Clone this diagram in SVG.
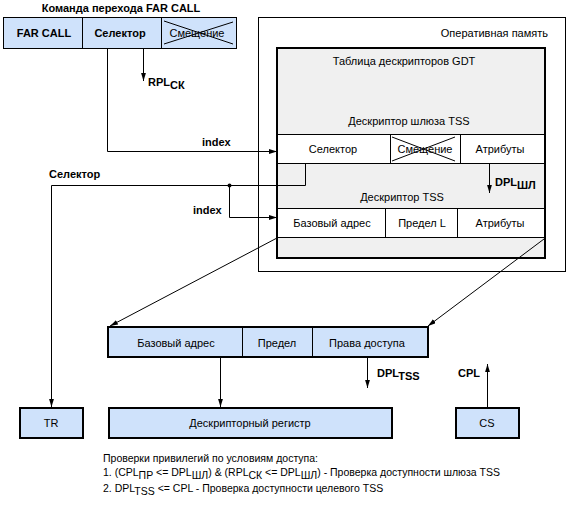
<svg xmlns="http://www.w3.org/2000/svg" width="570" height="510" viewBox="0 0 570 510">
<defs>
<style>
text{font-family:"Liberation Sans","DejaVu Sans",sans-serif;font-size:11px;fill:#000}
.b{font-weight:bold}
.c{text-anchor:middle}
.n{font-size:10.5px}
.blue{fill:#cfe2fb}
.ln{stroke:#000;stroke-width:1;fill:none}
.thin{stroke:#000;stroke-width:1}
.thick{stroke:#000;stroke-width:2}
</style>
<marker id="ar" viewBox="0 0 10 6" refX="10" refY="3" markerWidth="8" markerHeight="5" markerUnits="userSpaceOnUse" orient="auto">
<path d="M0,0 L10,3 L0,6 z" fill="#000"/>
</marker>
</defs>

<g id="far-call">
<text class="b c" x="121" y="12">Команда перехода FAR CALL</text>
<rect class="blue thin" x="3.5" y="17.5" width="233" height="31"/>
<line class="thin" x1="82.5" y1="17.5" x2="82.5" y2="48.5"/>
<line class="thin" x1="161.5" y1="17.5" x2="161.5" y2="48.5"/>
<text class="b c" x="44" y="37">FAR CALL</text>
<text class="b c" x="120" y="37">Селектор</text>
<text class="c" x="197" y="37">Смещение</text>
<line class="thin" x1="164" y1="21" x2="233" y2="44"/>
<line class="thin" x1="164" y1="44" x2="233" y2="22"/>
</g>

<g id="memory">
<rect class="ln" x="258.5" y="17.5" width="307" height="254"/>
<text x="548" y="37" text-anchor="end">Оперативная память</text>
</g>

<g id="gdt">
<rect x="277" y="48" width="268" height="210" fill="#f0f0f0" class="thick"/>
<text class="c" x="404" y="65">Таблица дескрипторов GDT</text>
<text class="c" x="409" y="125">Дескриптор шлюза TSS</text>
</g>

<g id="gate-descriptor">
<rect x="277" y="134.5" width="268" height="29" fill="#fff" class="thin"/>
<line class="thin" x1="390.5" y1="134.5" x2="390.5" y2="163.5"/>
<line class="thin" x1="460.5" y1="134.5" x2="460.5" y2="163.5"/>
<text class="c" x="333" y="153">Селектор</text>
<text class="c" x="425" y="153">Смещение</text>
<line class="thin" x1="392" y1="137" x2="455" y2="161"/>
<line class="thin" x1="392" y1="161" x2="455" y2="137"/>
<text class="c" x="500" y="153">Атрибуты</text>
</g>

<g id="tss-descriptor">
<text class="c" x="402" y="201">Дескриптор TSS</text>
<rect x="277" y="208.5" width="268" height="29" fill="#fff" class="thin"/>
<line class="thin" x1="385.5" y1="208.5" x2="385.5" y2="237.5"/>
<line class="thin" x1="457.5" y1="208.5" x2="457.5" y2="237.5"/>
<text class="c" x="332" y="227">Базовый адрес</text>
<text class="c" x="422" y="227">Предел L</text>
<text class="c" x="500" y="227">Атрибуты</text>
<rect x="277" y="48" width="268" height="210" fill="none" class="thick"/>
</g>

<g id="cache-register">
<rect class="blue thick" x="108" y="327" width="320" height="30"/>
<line class="thin" x1="242.5" y1="327" x2="242.5" y2="357"/>
<line class="thin" x1="312.5" y1="327" x2="312.5" y2="357"/>
<text class="c" x="176" y="347">Базовый адрес</text>
<text class="c" x="277" y="347">Предел</text>
<text class="c" x="367" y="347">Права доступа</text>
</g>

<g id="tr">
<rect class="blue thick" x="20" y="408" width="63" height="30"/>
<text class="c" x="51" y="427">TR</text>
</g>

<g id="descriptor-register">
<rect class="blue thick" x="109" y="408" width="283" height="30"/>
<text class="c" x="250" y="427">Дескрипторный регистр</text>
</g>

<g id="cs">
<rect class="blue thick" x="456" y="408" width="63" height="30"/>
<text class="c" x="487" y="427">CS</text>
</g>

<g id="connectors">
<path class="ln" d="M107.5,49 V151.5 H277" marker-end="url(#ar)"/>
<path class="ln" d="M143.5,49 V81" marker-end="url(#ar)"/>
<path class="ln" d="M305.5,163.5 V185.5 H51.5 V407" marker-end="url(#ar)"/>
<circle cx="229.5" cy="185.5" r="2" fill="#000"/>
<path class="ln" d="M229.5,185.5 V217.5 H277" marker-end="url(#ar)"/>
<path class="ln" d="M489.5,163.5 V193" marker-end="url(#ar)"/>
<path class="ln" d="M277,238 L110,326" marker-end="url(#ar)"/>
<path class="ln" d="M544,239 L428,326" marker-end="url(#ar)"/>
<path class="ln" d="M220.5,358 V407" marker-end="url(#ar)"/>
<path class="ln" d="M367.5,358 V388" marker-end="url(#ar)"/>
<path class="ln" d="M487.5,407 V364" marker-end="url(#ar)"/>
</g>

<g id="labels">
<text class="b" x="148" y="86">RPL<tspan dy="3">СК</tspan></text>
<text class="b" x="202" y="146">index</text>
<text class="b" x="49" y="178">Селектор</text>
<text class="b" x="193" y="214">index</text>
<text class="b" x="495" y="186">DPL<tspan dy="3">ШЛ</tspan></text>
<text class="b" x="377" y="377">DPL<tspan dy="3">TSS</tspan></text>
<text class="b" x="458" y="377">CPL</text>
</g>

<g id="notes">
<text class="n" x="103" y="462">Проверки привилегий по условиям доступа:</text>
<text class="n" x="103" y="476">1. (CPL<tspan dy="3">ПР</tspan><tspan dy="-3"> &lt;= DPL</tspan><tspan dy="3">ШЛ</tspan><tspan dy="-3">) &amp; (RPL</tspan><tspan dy="3">СК</tspan><tspan dy="-3"> &lt;= DPL</tspan><tspan dy="3">ШЛ</tspan><tspan dy="-3">) - Проверка доступности шлюза TSS</tspan></text>
<text class="n" x="103" y="492">2. DPL<tspan dy="3">TSS</tspan><tspan dy="-3"> &lt;= CPL - Проверка доступности целевого TSS</tspan></text>
</g>
</svg>
